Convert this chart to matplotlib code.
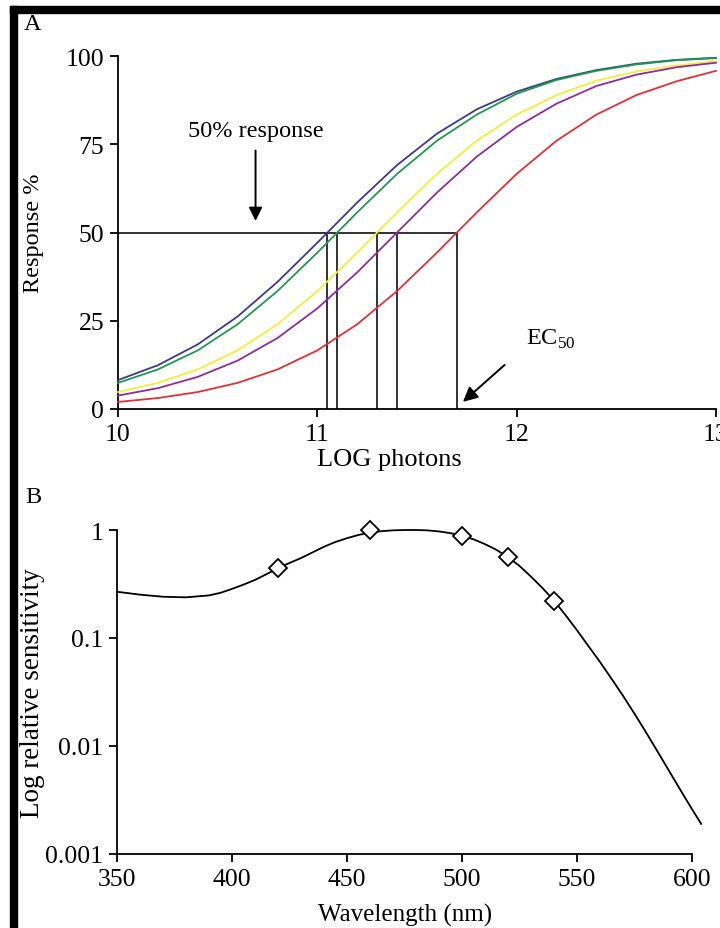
import numpy as np
import matplotlib
matplotlib.use("Agg")
import matplotlib.pyplot as plt
from matplotlib.patches import Rectangle

plt.rcParams['font.family'] = ['Liberation Serif', 'DejaVu Serif']

# Panel A: dose-response curves (LOG photons vs response %)
log_photons = [10.0, 10.2, 10.4, 10.6, 10.8, 11.0, 11.2, 11.4, 11.6, 11.8,
               12.0, 12.2, 12.4, 12.6, 12.8, 13.0]
resp_navy = [8.2, 12.4, 18.3, 26.2, 36.0, 47.1, 58.5, 69.1, 78.0, 84.9,
             89.9, 93.5, 96.0, 97.8, 98.9, 99.5]
resp_green = [7.4, 11.2, 16.6, 24.0, 33.4, 44.3, 55.7, 66.6, 76.0, 83.4,
              89.3, 93.2, 95.8, 97.6, 98.8, 99.4]
resp_yellow = [4.8, 7.4, 11.2, 16.6, 24.0, 33.4, 44.3, 55.7, 66.6, 76.0,
               83.4, 88.9, 93.0, 95.6, 97.3, 98.5]
resp_purple = [3.8, 5.9, 9.1, 13.7, 20.1, 28.5, 38.7, 50.0, 61.3, 71.5,
               79.9, 86.5, 91.5, 94.7, 96.8, 98.1]
resp_red = [2.0, 3.1, 4.8, 7.4, 11.2, 16.6, 24.0, 33.4, 44.3, 55.7,
            66.6, 76.0, 83.4, 88.9, 92.8, 95.8]
curve_colors = ['#3c3a8e', '#1f9a4c', '#f2ee3a', '#8e2c9e', '#e0303a']
ec50 = [11.05, 11.1, 11.3, 11.4, 11.7]

# Panel B: spectral sensitivity
wavelength = [350, 360, 370, 380, 390, 395, 400, 405, 410, 415, 420, 425, 430,
              435, 440, 445, 450, 455, 460, 465, 470, 475, 480, 485, 490, 495,
              500, 505, 510, 515, 520, 525, 530, 535, 540, 545, 550, 555, 560,
              565, 570, 575, 580, 585, 590, 595, 600, 604]
sensitivity = [0.268, 0.252, 0.241, 0.238, 0.248, 0.262, 0.285, 0.312, 0.345,
               0.39, 0.445, 0.495, 0.55, 0.62, 0.70, 0.775, 0.84, 0.90, 0.945,
               0.975, 0.993, 1.0, 1.0, 0.992, 0.97, 0.935, 0.885, 0.82, 0.74,
               0.655, 0.56, 0.465, 0.37, 0.29, 0.222, 0.163, 0.118, 0.084,
               0.060, 0.042, 0.0292, 0.0199, 0.0134, 0.0089, 0.0059, 0.0039,
               0.0026, 0.0019]
diamond_wl = [420, 460, 500, 520, 540]
diamond_val = [0.445, 1.0, 0.885, 0.56, 0.222]

W, H = 720, 929
fig = plt.figure(figsize=(W / 100, H / 100), dpi=100)

def fx(px):
    return px / W

def fy(py):
    return 1 - py / H

fs = 17.5
tick_fs = 18.5

# ---- panel A
axA = fig.add_axes([fx(118), fy(410), (716 - 118) / W, (410 - 57) / H])
curves = [resp_navy, resp_green, resp_yellow, resp_purple, resp_red]
for vals, c in zip(curves, curve_colors):
    axA.plot(log_photons, vals, color=c, lw=1.3, clip_on=False, zorder=3)

axA.plot([10, max(ec50)], [50, 50], color='#222222', lw=1.3, zorder=2)
for e in ec50:
    axA.plot([e, e], [0, 50], color='#222222', lw=1.3, zorder=2)

axA.set_xlim(10, 13)
axA.set_ylim(0, 100)
axA.set_xticks([10, 11, 12, 13])
axA.set_yticks([0, 25, 50, 75, 100])
for s in ['top', 'right']:
    axA.spines[s].set_visible(False)
for s in ['left', 'bottom']:
    axA.spines[s].set_linewidth(1.3)
axA.tick_params(direction='out', length=6, width=1.3, labelsize=tick_fs, pad=4)

axA.annotate('', xy=(10.69, 52.5), xytext=(10.69, 74),
             arrowprops=dict(arrowstyle='-|>', color='black', lw=1.4,
                             mutation_scale=20))
axA.text(10.69, 79, '50% response', ha='center', va='center', fontsize=fs)
axA.annotate('', xy=(11.72, 1.5), xytext=(11.95, 13),
             arrowprops=dict(arrowstyle='-|>', color='black', lw=1.4,
                             mutation_scale=22))
axA.text(12.17, 20, r'EC$_{\mathregular{50}}$', ha='center', va='center',
         fontsize=fs)

fig.text(fx(389), fy(460), 'LOG photons', ha='center', va='center', fontsize=19)
fig.text(fx(33), fy(233), 'Response %', ha='center', va='center',
         rotation=90, fontsize=fs)
fig.text(fx(33), fy(25), 'A', ha='center', va='center', fontsize=fs)

# ---- panel B
axB = fig.add_axes([fx(117), fy(855), (692 - 117) / W, (855 - 531) / H])
axB.plot(wavelength, sensitivity, color='black', lw=1.3, clip_on=False, zorder=3)
axB.plot(diamond_wl, diamond_val, linestyle='none', marker='D', markersize=9,
         markerfacecolor='white', markeredgecolor='black', markeredgewidth=1.3,
         clip_on=False, zorder=4)
axB.set_yscale('log')
axB.set_xlim(350, 600)
axB.set_ylim(0.001, 1)
axB.set_xticks([350, 400, 450, 500, 550, 600])
axB.set_yticks([0.001, 0.01, 0.1, 1])
axB.set_yticklabels(['0.001', '0.01', '0.1', '1'])
axB.yaxis.set_minor_locator(matplotlib.ticker.NullLocator())
for s in ['top', 'right']:
    axB.spines[s].set_visible(False)
for s in ['left', 'bottom']:
    axB.spines[s].set_linewidth(1.3)
axB.tick_params(direction='out', length=6, width=1.3, labelsize=tick_fs, pad=4)

fig.text(fx(405), fy(915), 'Wavelength (nm)', ha='center', va='center', fontsize=18)
fig.text(fx(33), fy(693), 'Log relative sensitivity', ha='center', va='center',
         rotation=90, fontsize=19.5)
fig.text(fx(33), fy(498), 'B', ha='center', va='center', fontsize=fs)

# black frame on the top and left edge of the scan
fig.patches.append(Rectangle((fx(10), fy(14)), 1 - fx(10), 7 / H,
                             transform=fig.transFigure, color='black'))
fig.patches.append(Rectangle((fx(10), 0), 7 / W, fy(7),
                             transform=fig.transFigure, color='black'))

fig.savefig('out.png', dpi=100)
